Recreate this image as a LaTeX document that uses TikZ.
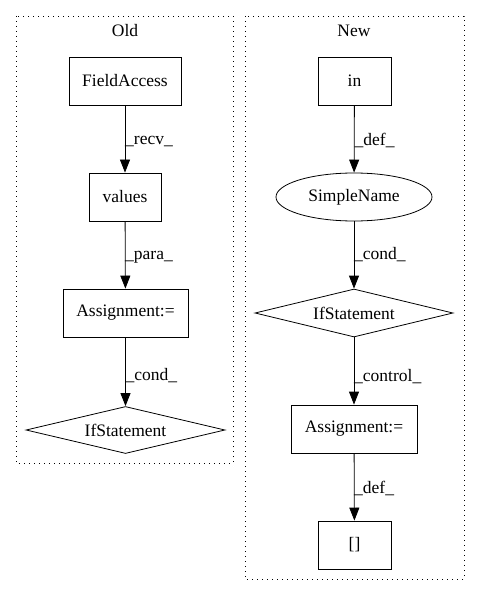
\documentclass[tikz,border=0pt]{standalone}
\usepackage{fontspec}
\setmainfont{Liberation Serif}
\usetikzlibrary{arrows.meta,shapes.geometric}
\begin{document}
\begin{tikzpicture}[
  every node/.style={font=\fontsize{17.5}{20}\selectfont, inner sep=0pt},
  boxnode/.style={draw, line width=0.8pt, rectangle},
  ellnode/.style={draw, line width=0.8pt, ellipse},
  dianode/.style={draw, line width=0.8pt, diamond, aspect=4.2},
  cluster/.style={draw, line width=0.8pt, dash pattern=on 1pt off 4pt},
  conn/.style={line width=0.8pt, -{Triangle[length=13pt,width=10pt]}},
  elabel/.style={anchor=west, inner sep=0pt}]
\useasboundingbox (0pt,0pt) rectangle (480pt,-596pt);
% clusters
\draw[cluster] (16pt,-16pt) rectangle (233pt,-463pt);
\draw[cluster] (245pt,-16pt) rectangle (464pt,-579pt);
\node (oldlbl) at (125pt,-31pt) {Old};
\node (newlbl) at (354pt,-31pt) {New};
% Old nodes
\node[boxnode, minimum width=112pt, minimum height=48pt] (fa) at (125pt,-81pt) {FieldAccess};
\node[boxnode, minimum width=72pt, minimum height=48pt] (val) at (125pt,-197pt) {values};
\node[boxnode, minimum width=125pt, minimum height=48pt] (asgo) at (125.5pt,-313pt) {Assignment:=};
\node[dianode, minimum width=199pt, minimum height=47pt] (ifo) at (125.5pt,-430pt) {IfStatement};
% New nodes
\node[boxnode, minimum width=73pt, minimum height=48pt] (in) at (354.5pt,-81pt) {in};
\node[ellnode, minimum width=156pt, minimum height=48pt] (sn) at (354pt,-197pt) {SimpleName};
\node[dianode, minimum width=198pt, minimum height=48pt] (ifn) at (354pt,-313pt) {IfStatement};
\node[boxnode, minimum width=126pt, minimum height=48pt] (asgn) at (354pt,-429pt) {Assignment:=};
\node[boxnode, minimum width=73pt, minimum height=48pt] (arr) at (354.5pt,-545pt) {[]};
% Old edges
\draw[conn] (fa) -- (val);
\draw[conn] (val) -- (asgo);
\draw[conn] (asgo) -- (ifo.north);
\node[elabel] (l1) at (125pt,-142pt) {\_recv\_};
\node[elabel] (l2) at (125pt,-257pt) {\_para\_};
\node[elabel] (l3) at (125.5pt,-376pt) {\_cond\_};
% New edges
\draw[conn] (in) -- (sn);
\draw[conn] (sn) -- (ifn.north);
\draw[conn] (ifn.south) -- (asgn);
\draw[conn] (asgn) -- (arr);
\node[elabel] (l4) at (354.5pt,-140pt) {\_def\_};
\node[elabel] (l5) at (354pt,-255pt) {\_cond\_};
\node[elabel] (l6) at (354pt,-377pt) {\_control\_};
\node[elabel] (l7) at (354pt,-488pt) {\_def\_};
\end{tikzpicture}
\end{document}
